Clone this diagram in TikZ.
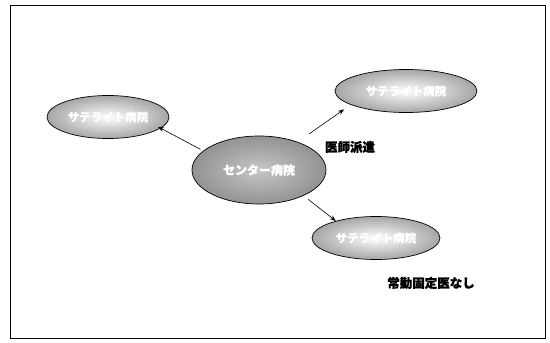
\documentclass[tikz,border=0pt]{standalone}
\usepackage{fontspec}
\newfontfamily\cjk[FakeBold=1.0]{Noto Sans CJK JP}
\usetikzlibrary{shapes.geometric,arrows.meta}
\tikzset{
  sat/.style={ellipse, draw=black, line width=0.7pt, inner sep=0pt,
    inner color=white, outer color=gray!70, text=white,
    font=\cjk\bfseries\fontsize{11.5}{13}\selectfont},
  hub/.style={ellipse, draw=black, line width=0.7pt, inner sep=0pt,
    inner color=gray!45, outer color=gray!85, text=white,
    font=\cjk\bfseries\fontsize{12}{14}\selectfont},
  conn/.style={-{Stealth[length=6pt,width=4.5pt]}, line width=0.6pt},
  lbl/.style={font=\cjk\bfseries\fontsize{12.5}{15}\selectfont, inner sep=0pt}
}
\begin{document}
\begin{tikzpicture}[x=1pt,y=-1pt]
\useasboundingbox (0,0) rectangle (550,343);
\node[draw=black, line width=0.7pt, minimum width=535pt, minimum height=333pt, inner sep=0pt] (frame) at (277.5,171.5) {};
\node[hub, minimum width=134pt, minimum height=68pt] (c) at (259,170) {センター病院};
\node[sat, minimum width=122pt, minimum height=43pt] (l) at (108,117) {サテライト病院};
\node[sat, minimum width=142pt, minimum height=43pt] (tr) at (406,91) {サテライト病院};
\node[sat, minimum width=128pt, minimum height=43pt] (br) at (376,238) {サテライト病院};
\draw[conn, shorten <=3pt, shorten >=-3pt] (c.161) -- (l.-12);
\draw[conn, shorten <=14pt, shorten >=8pt] (c.36.5) -- (tr.194.5);
\draw[conn, shorten <=6pt] (c.-30) -- (br.157.7);
\node[lbl] (disp) at (350,147) {医師派遣};
\node[lbl] (none) at (431,283) {常勤固定医なし};
\end{tikzpicture}
\end{document}
